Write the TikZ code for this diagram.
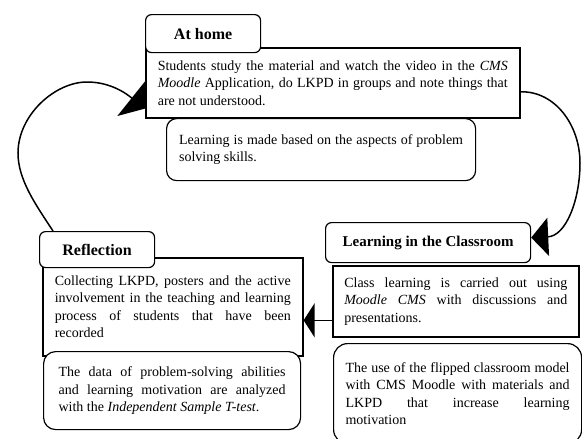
\documentclass[tikz,border=0pt]{standalone}
\usepackage{fontspec}
\setmainfont{Liberation Serif}
\usepackage{tikz}
\usetikzlibrary{arrows.meta}
\tikzset{
	titleBox/.style={draw, line width=1.2pt, fill=white, rounded corners=6pt, anchor=north west, inner sep=0pt,
		font=\fontsize{16}{19}\selectfont\bfseries},
	textBox/.style={draw, line width=1.6pt, fill=white, anchor=north west, inner sep=0pt, align=justify,
		font=\fontsize{14}{17.5}\selectfont},
	noteBox/.style={textBox, line width=1.2pt, rounded corners=#1},
	loopArrow/.style={line width=1.5pt, -{Triangle[length=17pt,width=#1]}},
	flowArrow/.style={line width=1.5pt, -{Triangle[length=11pt,width=34pt]}}
}

\begin{document}
\begin{tikzpicture}[x=1pt,y=-1pt]
			\useasboundingbox (0,0) rectangle (582,439);
			\node[textBox, minimum width=374pt, minimum height=70pt, text width=350pt] (homeText) at (145,47)
				{Students study the material and watch the video in the \textit{CMS}\linebreak \textit{Moodle} Application, do LKPD in groups and note things that\linebreak are not understood.};
			\node[titleBox, minimum width=115pt, minimum height=38pt] (homeTitle) at (145,14) {At home};
			\node[noteBox=10pt, minimum width=309pt, minimum height=62pt, text width=284pt] (learnBox) at (166,118)
				{Learning is made based on the aspects of problem\linebreak solving skills.};
			\node[titleBox, minimum width=205pt, minimum height=40pt, font=\fontsize{15}{18}\selectfont\bfseries] (classTitle) at (325,222) {Learning in the Classroom};
			\node[textBox, minimum width=246pt, minimum height=71pt, text width=223pt] (classText) at (332,265)
				{Class learning is carried out using\linebreak \textit{Moodle CMS} with discussions and\linebreak presentations.};
			\node[noteBox=14pt, minimum width=248pt, minimum height=100pt, text width=224pt] (flipBox) at (333,343)
				{The use of the flipped classroom model\linebreak with CMS Moodle with materials and\linebreak LKPD that increase learning\linebreak motivation};
			\node[textBox, minimum width=260pt, minimum height=98pt, text width=236pt] (reflText) at (42,257)
				{Collecting LKPD, posters and the active\linebreak involvement in the teaching and learning\linebreak process of students that have been\linebreak recorded};
			\node[titleBox, minimum width=115pt, minimum height=36pt] (reflTitle) at (39,231) {Reflection};
			\node[noteBox=12pt, minimum width=257pt, minimum height=78pt, text width=227pt] (dataBox) at (43,351)
				{The data of problem-solving abilities\linebreak and learning motivation are analyzed\linebreak with the \textit{Independent Sample T-test}.};
			\draw[loopArrow=38pt] ([yshift=-9pt]homeText.east) .. controls (555,91) and (580,125) .. (580,163)
				.. controls (580,200) and (566,236) .. ([yshift=5pt]classTitle.east);
			\path ([yshift=-19pt]classText.west) coordinate (midStart);
			\draw[flowArrow] (midStart) -- (midStart -| reflText.east);
			\draw[loopArrow=46pt] ([xshift=14pt]reflTitle.north west) .. controls (36,205) and (18,180) .. (18,153)
				.. controls (18,115) and (55,82) .. (87,82) .. controls (112,82) and (128,95) .. ([yshift=10pt]homeText.south west);
		\end{tikzpicture}
\end{document}
